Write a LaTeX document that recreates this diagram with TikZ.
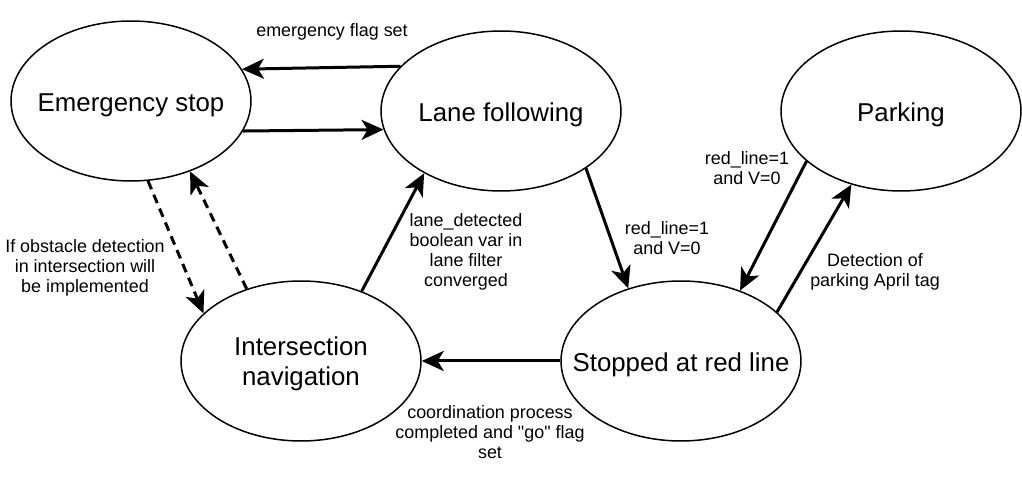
\documentclass[tikz,border=0pt]{standalone}
\usepackage{fontspec}
\setmainfont{Liberation Sans}[Ligatures=TeXOff]
\usetikzlibrary{shapes.geometric,arrows.meta}
\begin{document}
\begin{tikzpicture}[x=0.02cm,y=-0.02cm]
    \tikzset{state/.style={ellipse,draw,line width=0.03cm,minimum width=4.8cm,
        minimum height=3.2cm,inner xsep=-1.3cm,inner ysep=0pt,align=center,
        font={\fontsize{14.7pt}{17pt}\selectfont}},
      oneline/.style={text height=12.4pt,text depth=0pt},
      trans/.style={-{Stealth[length=0.44cm,width=0.4cm,inset=0.12cm]},line width=0.06cm},
      maybe/.style={trans,dash pattern=on 0.18cm off 0.12cm},
      lbl/.style={align=center,font={\fontsize{10.2pt}{11.3pt}\selectfont}}}
    \useasboundingbox (0,0) rectangle (1022,492);
    \node[state,oneline] (emerg) at (131,101) {Emergency stop};
    \node[state,oneline] (lane) at (501,111) {Lane following};
    \node[state,oneline] (park) at (901,111) {Parking};
    \node[state,text depth=0pt] (inter) at (301,361) {Intersection\\navigation};
    \node[state,oneline] (stop) at (681,361) {Stopped at red line};
    % transitions
    \draw[trans] (lane.156) -- (emerg.16);
    \draw[trans] (emerg.-15) -- (lane.189);
    \draw[trans] (lane.-34) -- (stop.126);
    \draw[trans] (park.208) -- (stop.50);
    \draw[trans] (stop.27) -- (park.236);
    \draw[trans] (stop.west) -- (inter.east);
    \draw[trans] (inter.49) -- (lane.219);
    \draw[maybe] (emerg.-78) -- (inter.154);
    \draw[maybe] (inter.127) -- (emerg.-50);
    % labels
    \node[lbl] (lflag) at (332,32) {emergency flag set};
    \node[lbl] (lred) at (667,238) {red\_line=1\\and V=0};
    \node[lbl] (lredp) at (747,168) {red\_line=1\\and V=0};
    \node[lbl] (ltag) at (875,272) {Detection of\\parking April tag};
    \node[lbl] (ldet) at (466,252) {lane\_detected\\boolean var in\\lane filter\\converged};
    \node[lbl] (lgo) at (490,432) {coordination process\\completed and "go" flag\\set};
    \node[lbl] (lobst) at (85,268) {If obstacle detection\\in intersection will\\be implemented};
\end{tikzpicture}
\end{document}
